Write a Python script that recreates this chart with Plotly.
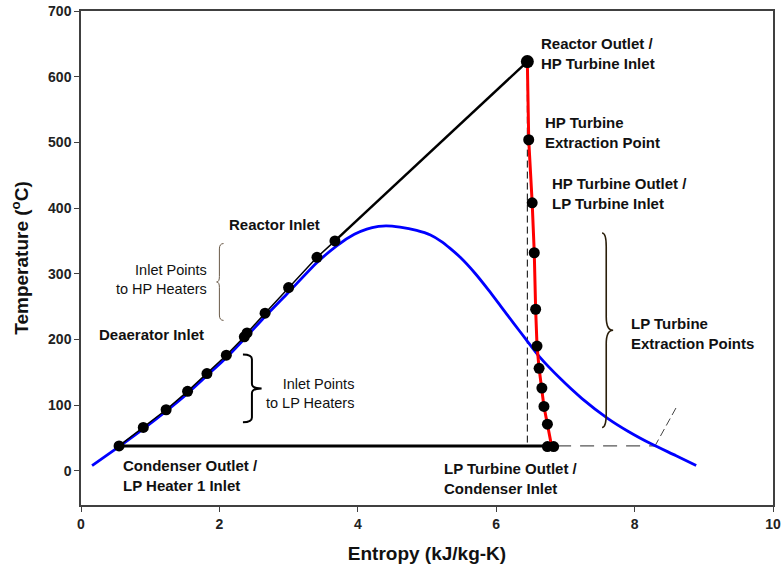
import plotly.graph_objects as go

# Saturation dome of water (entropy kJ/kg-K, temperature degC)
dome_s = [0.16, 0.55, 0.90, 1.23, 1.54, 1.82, 2.10, 2.38, 2.66, 3.00, 3.40, 3.70,
          3.95, 4.13, 4.30, 4.41, 4.61, 4.85, 5.05, 5.21, 5.33, 5.48, 5.70, 5.89,
          6.07, 6.25, 6.43, 6.63, 6.93, 7.24, 7.61, 7.91, 8.26, 8.60, 8.89]
dome_t = [8, 37, 64, 91, 118, 145, 172, 203, 235, 272, 316, 343,
          360, 368, 372, 373, 371, 366, 359, 349, 339, 325, 300, 275,
          250, 225, 200, 173, 140, 110, 80, 60, 40, 23, 8]

# Feedwater heating: condenser outlet -> heaters -> deaerator -> reactor inlet
feed_s = [0.55, 0.90, 1.23, 1.54, 1.82, 2.10, 2.36, 2.40, 2.66, 3.00, 3.41, 3.67]
feed_t = [38, 66, 93, 121, 148, 176, 204, 210, 240, 279, 325, 350]

# Reactor heating up to the turbine inlet
reactor_s = [3.67, 6.45]
reactor_t = [350, 623]

# Turbine expansion (HP + LP) down to the condenser
turb_s = [6.45, 6.47, 6.52, 6.55, 6.57, 6.59, 6.62, 6.66, 6.69, 6.74, 6.80]
turb_t = [623, 504, 408, 332, 246, 190, 156, 126, 98, 71, 38]
turb_pts_s = [6.47, 6.52, 6.55, 6.57, 6.59, 6.62, 6.66, 6.69, 6.74, 6.74, 6.83]
turb_pts_t = [504, 408, 332, 246, 190, 156, 126, 98, 71, 37, 37]
inlet_s = [6.45]
inlet_t = [623]

# Condensation line
cond_s = [0.55, 6.83]
cond_t = [38, 38]

# Isentropic reference line and extension to the vapour line
isen_s = [6.45, 6.45]
isen_t = [623, 38]
ext_s = [6.88, 8.29]
ext_t = [38, 38]
tick_s = [8.29, 8.61]
tick_t = [37, 98]

FONT = "Arial, Liberation Sans, sans-serif"

fig = go.Figure()

fig.add_trace(go.Scatter(x=isen_s, y=isen_t, mode="lines",
                         line=dict(color="black", width=1, dash="7px,4px")))
fig.add_trace(go.Scatter(x=ext_s, y=ext_t, mode="lines",
                         line=dict(color="#555555", width=1.2, dash="14px,9px")))
fig.add_trace(go.Scatter(x=tick_s, y=tick_t, mode="lines",
                         line=dict(color="#444444", width=1, dash="8px,4px")))
fig.add_trace(go.Scatter(x=dome_s, y=dome_t, mode="lines", line_shape="spline",
                         line=dict(color="#0000ff", width=2.8, smoothing=0.6)))
fig.add_trace(go.Scatter(x=feed_s, y=feed_t, mode="lines",
                         line=dict(color="black", width=1.5)))
fig.add_trace(go.Scatter(x=reactor_s, y=reactor_t, mode="lines",
                         line=dict(color="black", width=2.5)))
fig.add_trace(go.Scatter(x=cond_s, y=cond_t, mode="lines",
                         line=dict(color="black", width=3)))
fig.add_trace(go.Scatter(x=turb_s, y=turb_t, mode="lines",
                         line=dict(color="#ff0000", width=3)))
fig.add_trace(go.Scatter(x=feed_s, y=feed_t, mode="markers",
                         marker=dict(color="black", size=11)))
fig.add_trace(go.Scatter(x=turb_pts_s, y=turb_pts_t, mode="markers",
                         marker=dict(color="black", size=11)))
fig.add_trace(go.Scatter(x=inlet_s, y=inlet_t, mode="markers",
                         marker=dict(color="black", size=13)))


def brace(x_end, x_stem, x_tip, y_top, y_bot):
    """SVG path for a curly brace; tip points toward x_tip."""
    y_mid = (y_top + y_bot) / 2
    d = (y_top - y_bot) * 0.07
    return (f"M {x_end},{y_top} Q {x_stem},{y_top} {x_stem},{y_top - d} "
            f"L {x_stem},{y_mid + d} Q {x_stem},{y_mid} {x_tip},{y_mid} "
            f"Q {x_stem},{y_mid} {x_stem},{y_mid - d} "
            f"L {x_stem},{y_bot + d} Q {x_stem},{y_bot} {x_end},{y_bot}")


# (x_end, x_stem, x_tip, y_top, y_bot, colour, width)
braces = [
    (2.06, 2.00, 1.96, 346, 229, "#6a5a48", 1.0),
    (2.34, 2.47, 2.61, 177, 74, "black", 2.0),
    (7.53, 7.59, 7.69, 362, 66, "#2a1e0a", 1.6),
]
for xe, xs, xt, yt, yb, col, w in braces:
    fig.add_shape(type="path", path=brace(xe, xs, xt, yt, yb), xref="x", yref="y",
                  line=dict(color=col, width=w))

labels = [
    ("Reactor Inlet", 2.79, 375, "center", True),
    ("Inlet Points<br>to HP Heaters", 1.85, 292, "right", False),
    ("Deaerator Inlet", 0.23, 207, "left", True),
    ("Inlet Points<br>to LP Heaters", 3.97, 118, "right", False),
    ("Condenser Outlet /<br>LP Heater 1 Inlet", 0.58, -7, "left", True),
    ("Reactor Outlet /<br>HP Turbine Inlet", 6.62, 636, "left", True),
    ("HP Turbine<br>Extraction Point", 6.67, 515, "left", True),
    ("HP Turbine Outlet /<br>LP Turbine Inlet", 6.78, 422, "left", True),
    ("LP Turbine<br>Extraction Points", 7.92, 209, "left", True),
    ("LP Turbine Outlet /<br>Condenser Inlet", 5.22, -12, "left", True),
]
for text, x, y, anchor, bold in labels:
    fig.add_annotation(x=x, y=y, xref="x", yref="y", text=text, showarrow=False,
                       xanchor=anchor, yanchor="middle", align=anchor,
                       font=dict(family=FONT, size=15 if bold else 14.5,
                                 color="#111111",
                                 weight="bold" if bold else "normal"))

axis_common = dict(showgrid=False, zeroline=False, showline=True, mirror=True,
                   linecolor="#404040", linewidth=1.5, ticks="outside",
                   ticklen=5, tickcolor="#404040", automargin=False,
                   tickfont=dict(family=FONT, size=14, color="#222222", weight="bold"))

fig.update_layout(
    width=782, height=574,
    margin=dict(l=81, r=9, t=11, b=69),
    paper_bgcolor="white", plot_bgcolor="white",
    showlegend=False,
    xaxis=dict(range=[0, 10], tickvals=[0, 2, 4, 6, 8, 10],
               title=dict(text="Entropy (kJ/kg-K)", standoff=16,
                          font=dict(family=FONT, size=19, color="#111111", weight="bold")),
               **axis_common),
    yaxis=dict(range=[-52, 700], tickvals=[0, 100, 200, 300, 400, 500, 600, 700],
               title=dict(text="Temperature (<sup>o</sup>C)", standoff=14,
                          font=dict(family=FONT, size=19, color="#111111", weight="bold")),
               **axis_common),
)

fig.write_html("out.html")
